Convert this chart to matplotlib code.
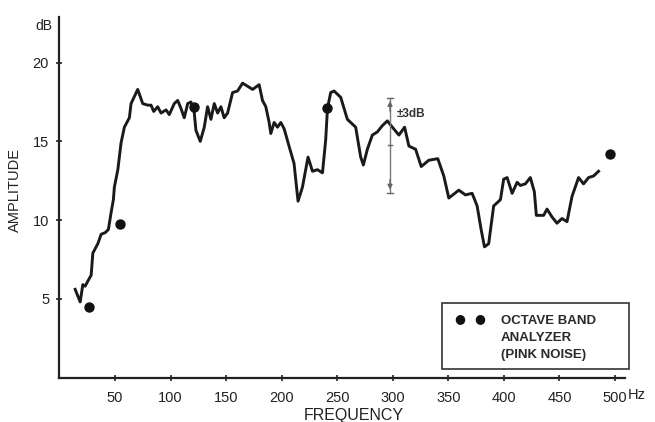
import matplotlib.pyplot as plt
from matplotlib.patches import Rectangle

plt.rcParams['font.family'] = ['Liberation Sans', 'DejaVu Sans']

# ── Data ──────────────────────────────────────────────────────────────────────
freq = [14.1, 18.6, 21.0, 23.1, 26.1, 28.5, 30.0, 34.5, 37.5, 41.1, 44.0, 46.5,
        48.5, 49.4, 52.5, 55.4, 58.4, 62.9, 64.4, 70.4, 74.9, 79.4, 82.4, 84.8,
        88.4, 91.4, 95.9, 98.8, 103.3, 106.4, 109.3, 112.3, 115.4, 118.3, 121.3,
        122.8, 126.7, 130.3, 133.3, 136.3, 139.3, 142.3, 145.3, 148.2, 151.3,
        155.8, 160.3, 164.8, 169.3, 173.8, 179.7, 182.7, 185.7, 188.7, 190.2,
        193.2, 196.2, 199.2, 202.2, 206.6, 211.1, 214.7, 218.7, 223.7, 227.7,
        232.2, 236.7, 239.6, 241.2, 244.1, 247.1, 253.1, 259.1, 266.6, 271.1,
        273.5, 277.1, 281.6, 286.1, 290.6, 295.1, 299.6, 305.5, 310.6, 314.5,
        320.5, 325.6, 332.4, 340.5, 345.9, 350.4, 359.4, 365.4, 371.4, 375.9,
        379.5, 382.5, 386.3, 390.8, 393.9, 396.9, 399.8, 402.9, 407.4, 411.9,
        414.8, 419.3, 423.8, 427.4, 429.2, 435.8, 438.8, 443.3, 447.8, 452.3,
        456.8, 461.3, 467.2, 471.7, 476.2, 480.7, 485.2]
amp = [5.6, 4.8, 5.9, 5.8, 6.2, 6.5, 7.9, 8.5, 9.1, 9.2, 9.4, 10.5,
       11.3, 12.1, 13.2, 14.9, 15.9, 16.5, 17.4, 18.3, 17.4, 17.3, 17.3, 16.9,
       17.2, 16.8, 17.0, 16.7, 17.4, 17.6, 17.1, 16.5, 17.4, 17.5, 16.8,
       15.7, 15.0, 15.9, 17.2, 16.4, 17.4, 16.8, 17.2, 16.5, 16.8,
       18.1, 18.2, 18.7, 18.5, 18.3, 18.6, 17.6, 17.2, 16.2, 15.5,
       16.2, 15.9, 16.2, 15.8, 14.7, 13.6, 11.2, 12.1, 14.0, 13.1,
       13.2, 13.0, 15.1, 17.1, 18.1, 18.2, 17.8, 16.4, 15.9, 14.0,
       13.5, 14.5, 15.4, 15.6, 16.0, 16.3, 15.9, 15.4, 15.9, 14.7,
       14.5, 13.4, 13.8, 13.9, 12.8, 11.4, 11.9, 11.6, 11.7, 10.9,
       9.4, 8.3, 8.5, 10.9, 11.1, 11.3, 12.6, 12.7, 11.7, 12.4,
       12.2, 12.3, 12.7, 11.8, 10.3, 10.3, 10.7, 10.2, 9.8, 10.1,
       9.9, 11.5, 12.7, 12.3, 12.7, 12.8, 13.1]

octave_freq = [27.0, 54.5, 121.3, 241.1, 495.7]
octave_amp = [4.5, 9.75, 17.2, 17.1, 14.2]

x_ticks = [50, 100, 150, 200, 250, 300, 350, 400, 450, 500]
y_ticks = [5, 10, 15, 20]
tol_freq = 297.5
tol_lo, tol_mid, tol_hi = 11.75, 14.75, 17.75

# ── Plot ──────────────────────────────────────────────────────────────────────
fig = plt.figure(figsize=(6.55, 4.22), dpi=100, facecolor="white")
ax = fig.add_axes([59.5 / 655, 44.5 / 422, (625 - 59.5) / 655, (377.5 - 17) / 422])

ax.plot(freq, amp, color="#1a1a1a", linewidth=2.1, solid_joinstyle="round")
ax.scatter(octave_freq, octave_amp, s=42, color="#111111", zorder=4,
           clip_on=False)

# ±3dB tolerance marker
ax.plot([tol_freq, tol_freq], [tol_lo, tol_hi], color="#777777", linewidth=1.0,
        zorder=2)
for yv in (tol_lo, tol_hi):
    ax.plot([tol_freq - 3, tol_freq + 3], [yv, yv], color="#666666", linewidth=1.0)
ax.plot([tol_freq - 1.5, tol_freq + 1.5], [tol_mid, tol_mid], color="#666666",
        linewidth=1.0)
ax.annotate("", xy=(tol_freq, tol_hi), xytext=(tol_freq, tol_hi - 1.0),
            arrowprops=dict(arrowstyle="-|>", color="#666666", lw=1.0,
                            mutation_scale=7))
ax.annotate("", xy=(tol_freq, tol_lo), xytext=(tol_freq, tol_lo + 1.0),
            arrowprops=dict(arrowstyle="-|>", color="#666666", lw=1.0,
                            mutation_scale=7))
ax.text(tol_freq + 6.5, 16.75, "±3dB", fontsize=8.5, color="#333333",
        fontweight="bold", va="center", ha="left")

ax.set_xlim(0, 509)
ax.set_ylim(0, 22.9)
ax.set_xticks(x_ticks)
ax.set_yticks(y_ticks)
ax.set_xticklabels([str(t) for t in x_ticks], fontsize=10.5, color="#222222")
ax.set_yticklabels([str(t) for t in y_ticks], fontsize=10.5, color="#222222")
ax.tick_params(axis="both", direction="inout", length=5, width=1.2,
               colors="#222222", pad=5)
ax.tick_params(axis="x", pad=7)

for side in ("top", "right"):
    ax.spines[side].set_visible(False)
for side in ("left", "bottom"):
    ax.spines[side].set_linewidth(1.6)
    ax.spines[side].set_color("#222222")

fig.text(52 / 655, 1 - 26 / 422, "dB", fontsize=10, ha="right", va="center",
         color="#222222")
fig.text(628 / 655, 1 - 395 / 422, "Hz", fontsize=10.5, ha="left", va="center",
         color="#222222")
fig.text(15 / 655, 1 - 190 / 422, "AMPLITUDE", fontsize=10.5, rotation=90,
         ha="center", va="center", color="#222222")
fig.text(354 / 655, 1 - 420 / 422, "FREQUENCY", fontsize=11.5, ha="center",
         va="baseline", color="#222222")

# Legend box
fig.patches.append(Rectangle((442 / 655, 1 - 369 / 422), (629 - 442) / 655,
                             (369 - 303) / 422, transform=fig.transFigure,
                             facecolor="white", edgecolor="#333333",
                             linewidth=1.2, zorder=5))
for xd in (460, 480):
    fig.text(xd / 655, 1 - 319 / 422, "●", fontsize=9, ha="center",
             va="center", color="#111111", zorder=6,
             family=["DejaVu Sans"])
fig.text(501 / 655, 1 - 338 / 422,
         "OCTAVE BAND\nANALYZER\n(PINK NOISE)", fontsize=9.5,
         fontweight="bold", ha="left", va="center", linespacing=1.55,
         color="#2a2a2a", zorder=6)

fig.savefig("out.png", dpi=100, facecolor="white")
